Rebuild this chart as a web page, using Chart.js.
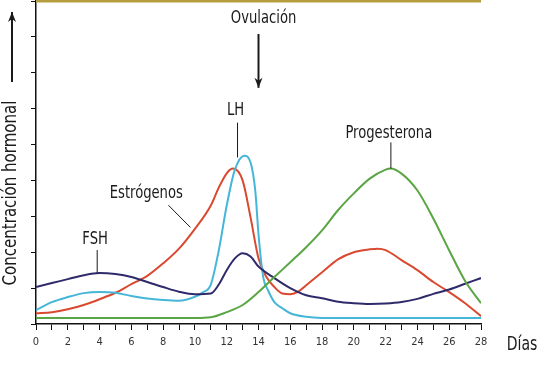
<!DOCTYPE html>
<html>
<head>
<meta charset="utf-8">
<script src="https://cdn.jsdelivr.net/npm/chart.js@4"></script>
<style>
  body { margin: 0; background: #fff; }
</style>
</head>
<body>
<canvas id="cycleChart" width="550" height="367"></canvas>
<script>
// valores (dias del ciclo / concentracion relativa)
const fshDays = [0,1,2,3,4,5,6,7,8,9,10,11,11.5,12,12.5,13,13.5,14,15,16,17,18,19,20,21,22,23,24,25,26,27,28];
const fshValues = [1.03,1.14,1.25,1.36,1.42,1.39,1.31,1.17,1.03,0.9,0.83,0.85,1.1,1.5,1.82,1.97,1.88,1.6,1.28,1.0,0.8,0.72,0.62,0.58,0.56,0.57,0.61,0.7,0.84,0.96,1.12,1.28];

const estDays = [0,1,2,3,4,5,6,7,8,9,10,11,11.5,12,12.4,13,13.5,14,14.5,15,15.5,16,16.5,17,18,19,20,21,21.5,22,23,24,25,26,27,28];
const estValues = [0.3,0.33,0.41,0.53,0.69,0.87,1.11,1.34,1.69,2.1,2.65,3.3,3.8,4.2,4.33,4.0,2.97,1.83,1.31,1.03,0.85,0.83,0.9,1.08,1.44,1.8,2.0,2.08,2.1,2.06,1.78,1.5,1.17,0.89,0.58,0.22];

const lhDays = [0,1,2,3,4,5,6,7,8,9,10,10.5,11,11.5,12,12.5,13.1,13.5,13.8,14,14.3,14.6,15,15.5,16,17,18,20,22,24,26,28];
const lhValues = [0.39,0.61,0.75,0.86,0.89,0.87,0.78,0.71,0.67,0.65,0.76,0.88,1.1,2.05,3.3,4.28,4.69,4.5,3.7,2.5,1.3,0.94,0.61,0.44,0.3,0.2,0.17,0.17,0.17,0.17,0.17,0.17];

const progDays = [0,2,4,6,8,10,11,12,13,14,15,16,17,18,19,20,21,22,22.3,23,24,25,26,27,28];
const progValues = [0.17,0.17,0.17,0.17,0.17,0.17,0.19,0.33,0.53,0.89,1.31,1.72,2.14,2.61,3.17,3.64,4.05,4.3,4.33,4.19,3.72,2.94,2.05,1.2,0.58];

const dayMin = 0;
const dayMax = 28;
const levelMax = 9;

const FONT = "'DejaVu Sans Condensed', 'DejaVu Sans', sans-serif";

function toPoints(days, values) {
    return days.map((d, i) => ({x: d, y: values[i]}));
}

function lineSet(label, days, values, color) {
    return {
        label: label,
        data: toPoints(days, values),
        borderColor: color,
        backgroundColor: color,
        borderWidth: 2,
        pointRadius: 0,
        cubicInterpolationMode: 'monotone',
        fill: false
    };
}

// etiquetas con su linea guia, en unidades de datos
const notes = [
    {text: 'FSH', tx: 3.72, ty: 2.36, line: [3.85, 2.06, 3.85, 1.42]},
    {text: 'Estrógenos', tx: 6.94, ty: 3.64, line: [8.33, 3.31, 9.72, 2.69]},
    {text: 'LH', tx: 12.56, ty: 5.94, line: [12.68, 5.61, 12.68, 4.64]},
    {text: 'Progesterona', tx: 22.2, ty: 5.31, line: [22.33, 5.06, 22.33, 4.33]}
];

// texto estrecho, como la tipografia condensada del original
function narrowText(ctx, text, x, y, size, squeeze, rotate) {
    ctx.save();
    ctx.translate(x, y);
    if (rotate) ctx.rotate(-Math.PI / 2);
    ctx.scale(squeeze, 1);
    ctx.font = size + 'px ' + FONT;
    ctx.fillText(text, 0, 0);
    ctx.restore();
}

function arrow(ctx, x1, y1, x2, y2) {
    const ang = Math.atan2(y2 - y1, x2 - x1);
    ctx.beginPath();
    ctx.moveTo(x1, y1);
    ctx.lineTo(x2, y2);
    ctx.stroke();
    ctx.beginPath();
    ctx.moveTo(x2, y2);
    ctx.lineTo(x2 - 10 * Math.cos(ang) + 4 * Math.sin(ang), y2 - 10 * Math.sin(ang) - 4 * Math.cos(ang));
    ctx.lineTo(x2 - 7 * Math.cos(ang), y2 - 7 * Math.sin(ang));
    ctx.lineTo(x2 - 10 * Math.cos(ang) - 4 * Math.sin(ang), y2 - 10 * Math.sin(ang) + 4 * Math.cos(ang));
    ctx.closePath();
    ctx.fill();
}

const labelsPlugin = {
    id: 'labelsPlugin',
    afterDraw(chart) {
        const ctx = chart.ctx;
        const xs = chart.scales.x;
        const ys = chart.scales.y;
        const area = chart.chartArea;
        ctx.save();

        // borde superior ocre
        ctx.strokeStyle = '#b59c3f';
        ctx.lineWidth = 3;
        ctx.beginPath();
        ctx.moveTo(area.left, 1);
        ctx.lineTo(area.right, 1);
        ctx.stroke();

        ctx.fillStyle = '#1a1a1a';
        ctx.strokeStyle = '#1a1a1a';
        ctx.lineWidth = 1;
        ctx.textAlign = 'center';
        ctx.textBaseline = 'middle';
        notes.forEach(n => {
            narrowText(ctx, n.text, xs.getPixelForValue(n.tx), ys.getPixelForValue(n.ty), 17, 0.86);
            ctx.beginPath();
            ctx.moveTo(xs.getPixelForValue(n.line[0]), ys.getPixelForValue(n.line[1]));
            ctx.lineTo(xs.getPixelForValue(n.line[2]), ys.getPixelForValue(n.line[3]));
            ctx.stroke();
        });

        // ovulacion
        narrowText(ctx, 'Ovulación', xs.getPixelForValue(14.32), ys.getPixelForValue(8.5), 17, 0.86);
        ctx.lineWidth = 2;
        arrow(ctx, xs.getPixelForValue(14), ys.getPixelForValue(8.08), xs.getPixelForValue(14), ys.getPixelForValue(6.58));

        // titulo eje y
        narrowText(ctx, 'Concentración hormonal', 11, 193, 19, 0.88, true);
        arrow(ctx, 12, 82, 12, 12);

        // titulo eje x
        narrowText(ctx, 'Días', area.right + 41, 345, 20, 0.78);
        ctx.restore();
    }
};

new Chart(document.getElementById('cycleChart'), {
    type: 'line',
    data: {
        datasets: [
            lineSet('Progesterona', progDays, progValues, '#5aa544'),
            lineSet('FSH', fshDays, fshValues, '#2f2b6b'),
            lineSet('LH', lhDays, lhValues, '#46b6d8'),
            lineSet('Estrógenos', estDays, estValues, '#d9492f')
        ]
    },
    options: {
        responsive: false,
        animation: false,
        layout: { padding: { top: 1, right: 69, left: 0, bottom: 0 } },
        plugins: {
            legend: { display: false },
            tooltip: { enabled: false }
        },
        scales: {
            x: {
                type: 'linear',
                min: dayMin,
                max: dayMax,
                afterFit: (s) => { s.height = 43; },
                border: { display: true, color: '#111', width: 1.5 },
                grid: { drawOnChartArea: false, tickLength: 6, color: '#111' },
                ticks: {
                    stepSize: 1,
                    autoSkip: false,
                    maxRotation: 0,
                    padding: 6,
                    color: '#333',
                    font: { family: FONT, size: 11 },
                    callback: (v) => (v % 2 === 0 ? v : '')
                }
            },
            y: {
                min: 0,
                max: levelMax,
                afterFit: (s) => { s.width = 36; },
                border: { display: true, color: '#111', width: 1.5 },
                grid: { drawOnChartArea: false, tickLength: 5, color: '#111' },
                ticks: { stepSize: 1, display: false }
            }
        }
    },
    plugins: [labelsPlugin]
});
</script>
</body>
</html>
